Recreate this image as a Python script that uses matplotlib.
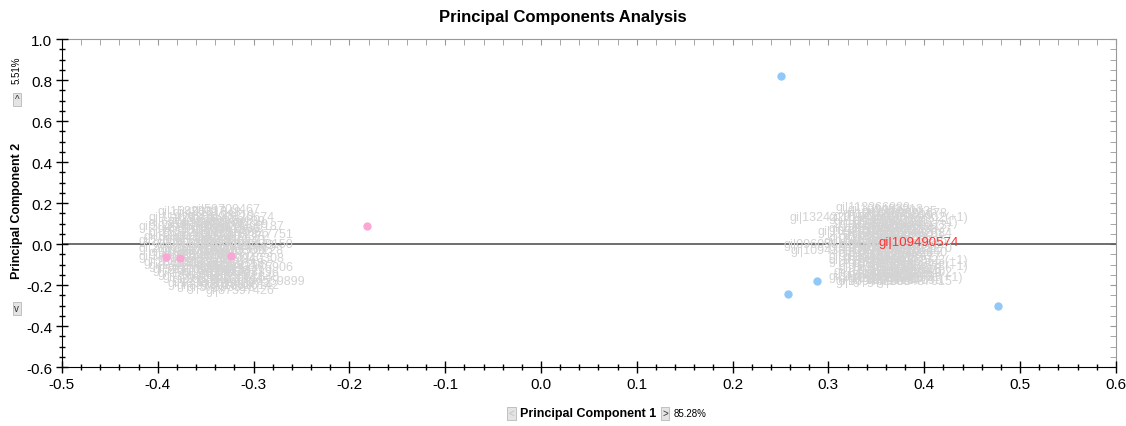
import matplotlib
matplotlib.use('Agg')
import matplotlib.pyplot as plt
from matplotlib.ticker import MultipleLocator

plt.rcParams['font.family'] = ['Liberation Sans', 'DejaVu Sans']

# scores of the two sample groups on PC1 / PC2
blue_pc1 = [0.2505, 0.258, 0.288, 0.477]
blue_pc2 = [0.82, -0.244, -0.18, -0.302]
pink_pc1 = [-0.182, -0.391, -0.377, -0.324]
pink_pc2 = [0.088, -0.063, -0.068, -0.059]

# loading labels, left cluster
left_x = [-0.365, -0.40, -0.385, -0.37, -0.36, -0.41, -0.39, -0.42, -0.40, -0.375,
          -0.355, -0.38, -0.415, -0.42, -0.395, -0.36, -0.42, -0.40, -0.375, -0.351,
          -0.42, -0.40, -0.38, -0.41, -0.39, -0.36, -0.40, -0.375, -0.345, -0.385,
          -0.36, -0.318, -0.35, -0.345, -0.39,
          -0.41, -0.38, -0.35, -0.395, -0.365, -0.34, -0.41, -0.385, -0.355, -0.33,
          -0.405, -0.38, -0.35, -0.33, -0.41, -0.385, -0.36, -0.395, -0.37, -0.34,
          -0.415, -0.385, -0.35, -0.405, -0.38, -0.36, -0.395, -0.37, -0.345, -0.38,
          -0.355, -0.37, -0.33, -0.34, -0.355]
left_y = [0.171, 0.16, 0.155, 0.14, 0.112, 0.13, 0.12, 0.09, 0.08, 0.09,
          0.06, 0.05, 0.04, 0.02, 0.02, 0.02, -0.02, -0.03, -0.01, -0.044,
          -0.06, -0.07, -0.05, -0.10, -0.11, -0.09, -0.14, -0.13, -0.137, -0.17,
          -0.17, -0.181, -0.224, -0.20, -0.19,
          0.11, 0.105, 0.13, 0.07, 0.075, 0.09, 0.06, 0.035, 0.04, 0.05,
          0.005, 0.0, -0.005, 0.0, -0.04, -0.025, -0.03, -0.055, -0.075, -0.07,
          -0.085, -0.09, -0.10, -0.12, -0.115, -0.125, -0.155, -0.15, -0.16, -0.20,
          -0.19, -0.21, -0.11, -0.03, 0.10]
left_ids = [59709467, 15823317, 49201348, 76128119, 89376139, 11926301, 33458017, 30294512,
            55801933, 71560344, 1196466, 40981276, 18830254, 29904611, 65512080, 51630940,
            21877460, 93021558, 44709215, 46977323, 37720148, 82241390, 60038827, 14490263,
            27713305, 56914112, 39012677, 71184420, 61293896, 25586013, 48830561, 86559899,
            87597426, 10326142, 53347709,
            62015538, 34478201, 90126674, 17732095, 58841306, 23390187, 75502913, 41168840,
            66903372, 12847751, 84419026, 30057718, 57721443, 96638150, 20184467, 47390025,
            73815509, 38822641, 15267794, 69940308, 26605173, 81128862, 44012957, 52276680,
            13904415, 78853321, 35519086, 64437712, 29981640, 88730155, 19648273, 57093318,
            42275906, 70361128, 31187749]

# loading labels, right cluster
right_x = [0.307, 0.32, 0.335, 0.345, 0.259, 0.30, 0.325, 0.34, 0.31, 0.33,
           0.35, 0.289, 0.315, 0.34, 0.30, 0.325, 0.345, 0.253, 0.31, 0.335,
           0.26, 0.32, 0.345, 0.30, 0.33, 0.35, 0.31, 0.325, 0.34, 0.305,
           0.33, 0.307, 0.32, 0.345, 0.35,
           0.315, 0.33, 0.35, 0.305, 0.32, 0.345, 0.30, 0.32, 0.335, 0.35,
           0.31, 0.33, 0.295, 0.32, 0.34, 0.30, 0.33, 0.35, 0.31, 0.33,
           0.315, 0.34, 0.30, 0.32, 0.34, 0.35, 0.31, 0.33, 0.35, 0.315,
           0.34, 0.30, 0.325, 0.34, 0.31]
right_y = [0.18, 0.17, 0.16, 0.15, 0.132, 0.13, 0.12, 0.11, 0.10, 0.09,
           0.08, 0.063, 0.06, 0.05, 0.03, 0.025, 0.02, 0.0, 0.0, -0.01,
           -0.03, -0.03, -0.04, -0.06, -0.07, -0.08, -0.09, -0.11, -0.12, -0.13,
           -0.15, -0.18, -0.165, -0.16, -0.18,
           0.15, 0.14, 0.13, 0.115, 0.105, 0.095, 0.08, 0.075, 0.07, 0.055,
           0.04, 0.04, 0.015, 0.01, 0.0, -0.015, -0.02, -0.02, -0.045, -0.045,
           -0.065, -0.06, -0.08, -0.085, -0.095, -0.105, -0.11, -0.125, -0.135, -0.145,
           -0.14, -0.155, -0.175, -0.175, -0.165]
right_names = ['gi|113366980', 'gi|109482213', 'gi|109470135', 'gi|109501678', 'gi|132422017',
               'gi|109455021', 'gi|109463390', 'gi|10948812(+1)', 'gi|109477164', 'gi|109459302',
               'gi|109498827', 'gi|10989123', 'gi|109471554', 'gi|109486610', 'gi|109460748',
               'gi|109479932', 'gi|109493215', 'gi|096058130', 'gi|109465873', 'gi|109484056',
               'gi|109438918', 'gi|109472381', 'gi|109496640', 'gi|109458129', 'gi|109481577',
               'gi|10947523(+1)', 'gi|109468344', 'gi|109477902', 'gi|109490118', 'gi|109462207',
               'gi|109483769', 'gi|109442905', 'gi|109470486', 'gi|10949331(+1)', 'gi|109487015',
               'gi|109461832', 'gi|109475509', 'gi|10949902(+1)', 'gi|109456617', 'gi|109468120',
               'gi|109489473', 'gi|109453308', 'gi|109466951', 'gi|109478026', 'gi|109492684',
               'gi|109459745', 'gi|109473390', 'gi|109449217', 'gi|109467058', 'gi|109480661',
               'gi|109454432', 'gi|109476813', 'gi|109495170', 'gi|109462579', 'gi|109474926',
               'gi|109464288', 'gi|109485117', 'gi|109452740', 'gi|109469605', 'gi|109482348',
               'gi|10949773(+1)', 'gi|109460091', 'gi|109476254', 'gi|109494402', 'gi|109463716',
               'gi|109487539', 'gi|109451163', 'gi|109471870', 'gi|109484795', 'gi|109458654']

hi_x, hi_y, hi_name = 0.352, 0.01, 'gi|109490574'

fig = plt.figure(figsize=(11.26, 4.27), dpi=100)
ax = fig.add_axes([0.055, 0.138, 0.936, 0.768])

ax.axhline(0, color='#555555', lw=1.2, zorder=1)

left_names = [f'gi|{i}' for i in left_ids]
for x, y, s in zip(left_x + right_x, left_y + right_y, left_names + right_names):
    ax.text(x, y, s, color='#d3d3d3', fontsize=9, ha='left', va='center', zorder=2)
ax.text(hi_x, hi_y, hi_name, color='#ff3333', fontsize=9.5, ha='left', va='center', zorder=4)

ax.scatter(blue_pc1, blue_pc2, s=36, color='#90c8f8', zorder=3, linewidths=0)
ax.scatter(pink_pc1, pink_pc2, s=36, color='#f9a8d6', zorder=3, linewidths=0)

ax.set_xlim(-0.5, 0.6)
ax.set_ylim(-0.6, 1.0)
ax.xaxis.set_major_locator(MultipleLocator(0.1))
ax.xaxis.set_minor_locator(MultipleLocator(0.02))
ax.yaxis.set_major_locator(MultipleLocator(0.2))
ax.yaxis.set_minor_locator(MultipleLocator(0.05))
ax.xaxis.set_major_formatter(lambda v, p: f'{v:.1f}')
ax.yaxis.set_major_formatter(lambda v, p: f'{v:.1f}')
ax.tick_params(which='major', direction='inout', length=8, width=1, labelsize=11, pad=3)
ax.tick_params(which='minor', direction='inout', length=5, width=1)

for side in ['top', 'right']:
    ax.spines[side].set_visible(False)
top = ax.secondary_xaxis('top')
top.xaxis.set_major_locator(MultipleLocator(0.1))
top.xaxis.set_minor_locator(MultipleLocator(0.02))
top.tick_params(which='both', direction='in', colors='#999999', labeltop=False, length=4)
top.spines['top'].set_color('#999999')
right = ax.secondary_yaxis('right')
right.yaxis.set_major_locator(MultipleLocator(0.2))
right.yaxis.set_minor_locator(MultipleLocator(0.05))
right.tick_params(which='both', direction='in', colors='#999999', labelright=False, length=4)
right.spines['right'].set_color('#999999')

fig.text(0.5, 0.958, 'Principal Components Analysis', ha='center', va='center',
         fontsize=12, fontweight='bold')

btn = dict(boxstyle='square,pad=0.15', fc='#e4e4e4', ec='#b8b8b8', lw=0.6)
fig.text(0.5227, 0.03, 'Principal Component 1', ha='center', va='center',
         fontsize=9, fontweight='bold')
fig.text(0.4545, 0.03, '<', ha='center', va='center', fontsize=7, color='#c0c0c0', bbox=btn)
fig.text(0.5905, 0.03, '>', ha='center', va='center', fontsize=7, color='#333333', bbox=btn)
fig.text(0.598, 0.03, '85.28%', ha='left', va='center', fontsize=7)

fig.text(0.015, 0.505, 'Principal Component 2', ha='center', va='center',
         rotation=90, fontsize=9, fontweight='bold')
fig.text(0.015, 0.765, '^', ha='center', va='center', fontsize=7, color='#333333', bbox=btn)
fig.text(0.015, 0.276, 'v', ha='center', va='center', fontsize=7, color='#333333', bbox=btn)
fig.text(0.015, 0.835, '5.51%', ha='center', va='center', rotation=90, fontsize=7)

fig.savefig('out.png', dpi=100)
